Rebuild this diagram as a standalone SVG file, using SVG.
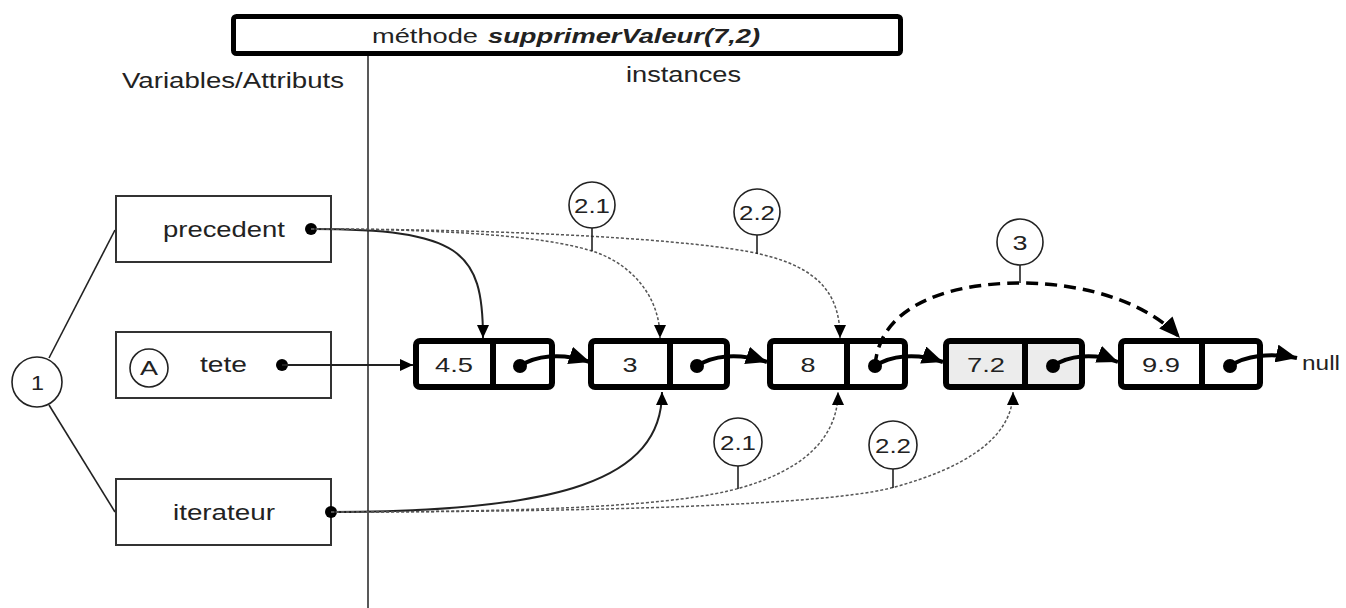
<svg xmlns="http://www.w3.org/2000/svg" width="1346" height="608" viewBox="0 0 1346 608">
<style>
text{font-family:"Liberation Sans",Arial,sans-serif;fill:#222;}
.lbl{font-size:22px;}
.val{font-size:21px;}
.box{fill:#fff;stroke:#333;stroke-width:2;}
.node{fill:#fff;stroke:#000;stroke-width:6;}
.div{stroke:#000;stroke-width:6;}
.circ{fill:#fff;stroke:#222;stroke-width:1.6;}
.stem{stroke:#222;stroke-width:1.6;}
.solid{fill:none;stroke:#222;stroke-width:2;}
.dot{fill:none;stroke:#555;stroke-width:1.5;stroke-dasharray:3 2;}
.ptr{fill:none;stroke:#000;stroke-width:4;}
.dash{fill:none;stroke:#000;stroke-width:3.5;stroke-dasharray:12 7;}
</style>
<defs>
<marker id="as" markerUnits="userSpaceOnUse" markerWidth="14" markerHeight="14" refX="13" refY="6" orient="auto" viewBox="0 0 14 12"><path d="M0,0 L13,6 L0,12 z" fill="#000"/></marker>
<marker id="ab" markerUnits="userSpaceOnUse" markerWidth="22" markerHeight="18" refX="21" refY="9" orient="auto" viewBox="0 0 22 18"><path d="M0,0 L21,9 L0,18 z" fill="#000"/></marker>
</defs>
<rect width="1346" height="608" fill="#fff"/>

<g id="title">
<rect x="233.5" y="16.5" width="667" height="37" rx="3" fill="#fff" stroke="#000" stroke-width="5"/>
<text class="val" x="372" y="43" textLength="106" lengthAdjust="spacingAndGlyphs">méthode</text>
<text class="val" x="488" y="43" textLength="272" lengthAdjust="spacingAndGlyphs" font-weight="bold" font-style="italic">supprimerValeur(7,2)</text>
</g>
<line x1="368" y1="56" x2="368" y2="608" stroke="#222" stroke-width="1.5"/>
<text class="lbl" x="122" y="88" textLength="222" lengthAdjust="spacingAndGlyphs">Variables/Attributs</text>
<text class="lbl" x="626" y="82" textLength="115" lengthAdjust="spacingAndGlyphs">instances</text>

<g id="c1">
<line class="stem" x1="49" y1="358" x2="115" y2="230"/>
<line class="stem" x1="49" y1="405" x2="115" y2="512"/>
<circle class="circ" cx="37" cy="382" r="25"/>
<text class="val" x="31" y="390" textLength="13" lengthAdjust="spacingAndGlyphs">1</text>
</g>

<g id="precedent">
<rect class="box" x="116" y="196" width="215" height="66"/>
<text class="lbl" x="163" y="237" textLength="122" lengthAdjust="spacingAndGlyphs">precedent</text>
<circle cx="311" cy="229" r="6" fill="#000"/>
</g>
<g id="tete">
<rect class="box" x="116" y="332" width="215" height="66"/>
<circle class="circ" cx="149" cy="368" r="19"/>
<text class="val" x="140" y="375" textLength="18" lengthAdjust="spacingAndGlyphs">A</text>
<text class="lbl" x="200" y="372" textLength="47" lengthAdjust="spacingAndGlyphs">tete</text>
<circle cx="282" cy="365" r="6" fill="#000"/>
</g>
<g id="iterateur">
<rect class="box" x="116" y="479" width="215" height="66"/>
<text class="lbl" x="173" y="520" textLength="102" lengthAdjust="spacingAndGlyphs">iterateur</text>
<circle cx="331" cy="512" r="6" fill="#000"/>
</g>

<g id="n1">
<rect class="node" x="416" y="341" width="136" height="46" rx="4"/>
<line class="div" x1="493" y1="341" x2="493" y2="387"/>
<text class="val" x="435" y="372" textLength="38" lengthAdjust="spacingAndGlyphs">4.5</text>
<circle cx="520" cy="366" r="7" fill="#000"/>
</g>
<g id="n2">
<rect class="node" x="591" y="341" width="136" height="46" rx="4"/>
<line class="div" x1="670" y1="341" x2="670" y2="387"/>
<text class="val" x="622.5" y="372" textLength="15" lengthAdjust="spacingAndGlyphs">3</text>
<circle cx="697" cy="366" r="7" fill="#000"/>
</g>
<g id="n3">
<rect class="node" x="770" y="341" width="135" height="46" rx="4"/>
<line class="div" x1="847" y1="341" x2="847" y2="387"/>
<text class="val" x="800.5" y="372" textLength="15" lengthAdjust="spacingAndGlyphs">8</text>
<circle cx="875" cy="366" r="7" fill="#000"/>
</g>
<g id="n4">
<rect class="node" x="946" y="341" width="136" height="46" rx="4" style="fill:#ececec"/>
<line class="div" x1="1025" y1="341" x2="1025" y2="387"/>
<text class="val" x="967" y="372" textLength="38" lengthAdjust="spacingAndGlyphs">7.2</text>
<circle cx="1053" cy="366" r="7" fill="#000"/>
</g>
<g id="n5">
<rect class="node" x="1121" y="341" width="139" height="46" rx="4"/>
<line class="div" x1="1202" y1="341" x2="1202" y2="387"/>
<text class="val" x="1142" y="372" textLength="38" lengthAdjust="spacingAndGlyphs">9.9</text>
<circle cx="1230" cy="366" r="7" fill="#000"/>
</g>
<text class="val" x="1302" y="370" textLength="38" lengthAdjust="spacingAndGlyphs">null</text>

<g id="connectors">
<path class="solid" d="M282,365 L413,365" stroke-width="1.5" marker-end="url(#as)"/>
<path class="ptr" d="M520,366 C535,356 560,352 590,362" marker-end="url(#ab)"/>
<path class="ptr" d="M697,366 C712,356 737,352 767,362" marker-end="url(#ab)"/>
<path class="ptr" d="M875,366 C890,356 915,352 943,362" marker-end="url(#ab)"/>
<path class="ptr" d="M1053,366 C1068,356 1093,352 1118,362" marker-end="url(#ab)"/>
<path class="ptr" d="M1230,366 C1245,356 1270,352 1297,358" marker-end="url(#ab)"/>

<path class="solid" d="M311,229 C460,229 483,250 483,338" marker-end="url(#as)"/>
<path class="dot" d="M311,229 C480,229 560,240 595,252 S660,295 660,338" marker-end="url(#as)"/>
<path class="dot" d="M311,229 C520,229 700,240 760,254 S840,295 840,338" marker-end="url(#as)"/>

<path class="solid" d="M331,512 C560,512 662,480 662,392" marker-end="url(#as)"/>
<path class="dot" d="M331,512 C550,512 680,505 740,488 S838,440 838,392" marker-end="url(#as)"/>
<path class="dot" d="M331,512 C600,512 830,505 895,487 S1013,440 1013,392" marker-end="url(#as)"/>

<path class="dash" d="M875,366 C880,300 960,283 1020,283 C1090,283 1150,305 1180,338" marker-end="url(#ab)"/>
</g>

<g id="l21top">
<line class="stem" x1="592" y1="228" x2="592" y2="251"/>
<circle class="circ" cx="592" cy="205" r="23"/>
<text class="val" x="574" y="213" textLength="36" lengthAdjust="spacingAndGlyphs">2.1</text>
</g>
<g id="l22top">
<line class="stem" x1="757" y1="235" x2="757" y2="254"/>
<circle class="circ" cx="757" cy="212" r="23"/>
<text class="val" x="739" y="220" textLength="36" lengthAdjust="spacingAndGlyphs">2.2</text>
</g>
<g id="l21bot">
<line class="stem" x1="738" y1="466" x2="738" y2="489"/>
<circle class="circ" cx="738" cy="442" r="24"/>
<text class="val" x="720" y="450" textLength="36" lengthAdjust="spacingAndGlyphs">2.1</text>
</g>
<g id="l22bot">
<line class="stem" x1="893" y1="469" x2="893" y2="488"/>
<circle class="circ" cx="893" cy="445" r="24"/>
<text class="val" x="875" y="453" textLength="36" lengthAdjust="spacingAndGlyphs">2.2</text>
</g>
<g id="l3">
<line class="stem" x1="1020" y1="265" x2="1020" y2="283"/>
<circle class="circ" cx="1020" cy="242" r="23"/>
<text class="val" x="1012.5" y="250" textLength="15" lengthAdjust="spacingAndGlyphs">3</text>
</g>
</svg>
